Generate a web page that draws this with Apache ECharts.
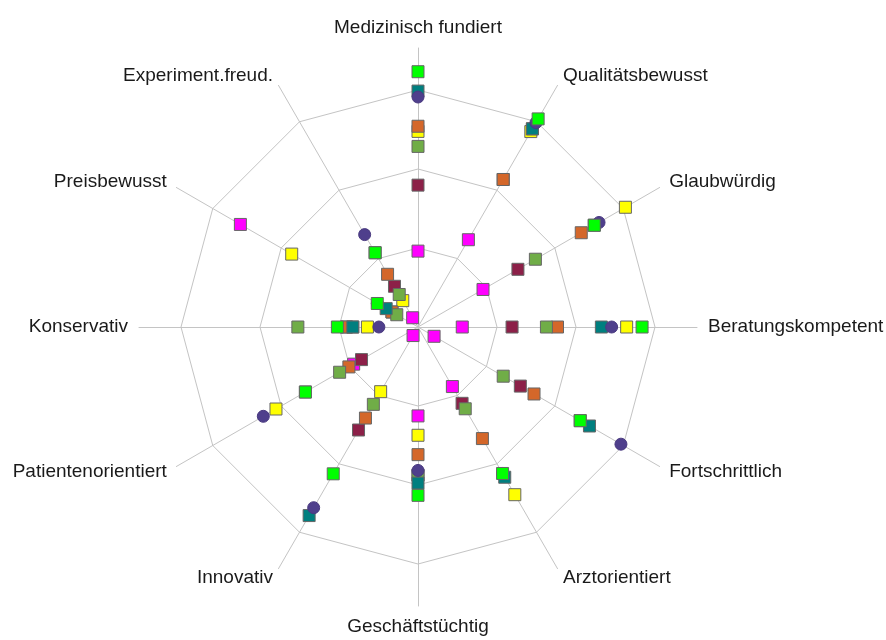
<!DOCTYPE html>
<html>
<head>
<meta charset="utf-8">
<script src="https://cdn.jsdelivr.net/npm/echarts@6/dist/echarts.min.js"></script>
<style>
html,body{margin:0;padding:0;background:#fff;}
#c{width:886px;height:640px;}
</style>
</head>
<body>
<div id="c"></div>
<script>
// Axis names in ECharts radar order (top, then counter-clockwise)
const categories = ['Medizinisch fundiert','Experiment.freud.','Preisbewusst','Konservativ','Patientenorientiert','Innovativ','Geschäftstüchtig','Arztorientiert','Fortschrittlich','Beratungskompetent','Glaubwürdig','Qualitätsbewusst'];

// Values (ring spacing = 20 units), same order as categories
const greenVals   = [64.6, 21.7, 11.9, 20.4, 32.9, 42.9, 42.6, 42.8, 47.4, 56.7, 51.5, 60.8];
const tealVals    = [59.7, 21.7,  9.3, 16.5, 32.9, 55.1, 39.5, 43.9, 50.1, 46.4, 51.5, 57.9];
const purpleVals  = [58.2, 27.0, 11.9,  9.9, 45.2, 52.8, 36.3, 42.8, 59.3, 49.0, 52.9, 59.7];
const yellowVals  = [49.5,  7.7, 36.9, 12.8, 41.5, 18.9, 27.4, 49.0, 47.4, 52.8, 60.6, 57.1];
const orangeVals  = [50.8, 15.4,  7.6, 18.1, 20.2, 26.6, 32.3, 32.6, 33.9, 35.3, 47.7, 43.1];
const oliveVals   = [45.7,  9.5,  6.2, 30.4, 22.9, 22.6, 37.5, 23.9, 24.9, 32.5, 34.3, 57.9];
const maroonVals  = [35.9, 11.9,  7.6, 18.1, 16.5, 30.1, 37.5, 22.3, 29.9, 23.8, 29.2, 43.1];
const magentaVals = [19.2,  2.7, 51.9, 16.5, 18.8,  2.5, 22.5, 17.4,  4.7, 11.2, 19.0, 25.5];

const ringMax = 60;    // outer ring value
const axisMax = 70.6;  // value at end of axis lines

const seriesDefs = [
  {name:'Magenta', vals: magentaVals, color:'#ff00ff', symbol:'rect'},
  {name:'Bordeaux', vals: maroonVals, color:'#8c2048', symbol:'rect'},
  {name:'Gelb', vals: yellowVals, color:'#ffff00', symbol:'rect'},
  {name:'Orange', vals: orangeVals, color:'#d4672a', symbol:'rect'},
  {name:'Oliv', vals: oliveVals, color:'#70ad47', symbol:'rect'},
  {name:'Petrol', vals: tealVals, color:'#007f7f', symbol:'rect'},
  {name:'Violett', vals: purpleVals, color:'#4f3f8c', symbol:'circle'},
  {name:'Grün', vals: greenVals, color:'#00ff00', symbol:'rect'}
];

const gridColor = '#c4c4c4';
const center = [418, 327];

const chart = echarts.init(document.getElementById('c'), null, {renderer:'canvas'});
chart.setOption({
  animation: false,
  backgroundColor: '#ffffff',
  radar: [
    {
      center: center,
      radius: 237,
      startAngle: 90,
      shape: 'polygon',
      splitNumber: 3,
      indicator: categories.map(n => ({name: n, min: 0, max: ringMax})),
      axisName: {show: false},
      axisLine: {show: false},
      axisTick: {show: false},
      axisLabel: {show: false},
      splitArea: {show: false},
      splitLine: {show: true, lineStyle: {color: gridColor, width: 1}}
    },
    {
      center: center,
      radius: 279,
      startAngle: 90,
      shape: 'polygon',
      splitNumber: 1,
      nameGap: 11,
      indicator: categories.map(n => ({name: n, min: 0, max: axisMax})),
      axisName: {show: true, color: '#1a1a1a', fontSize: 19, fontFamily: 'Liberation Sans, Arial, sans-serif'},
      axisLine: {show: true, lineStyle: {color: gridColor, width: 1}},
      axisTick: {show: false},
      axisLabel: {show: false},
      splitArea: {show: false},
      splitLine: {show: false}
    }
  ],
  series: seriesDefs.map(d => ({
    type: 'radar',
    radarIndex: 1,
    name: d.name,
    symbol: d.symbol,
    symbolSize: 12,
    silent: true,
    lineStyle: {opacity: 0, width: 0},
    itemStyle: {
      color: d.color,
      borderColor: d.symbol === 'circle' ? '#4a3a80' : '#666666',
      borderWidth: 1
    },
    data: [{value: d.vals, name: d.name}]
  }))
});
</script>
</body>
</html>
